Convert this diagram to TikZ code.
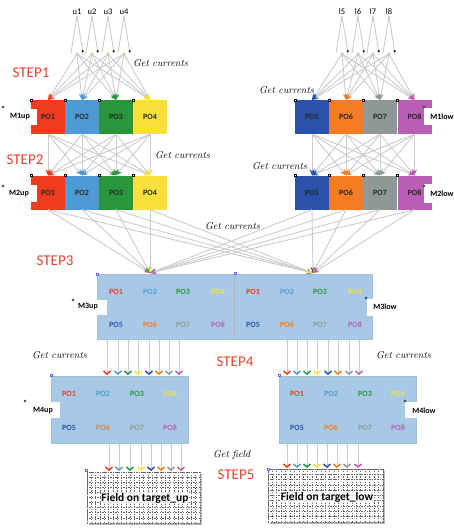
\documentclass[tikz,border=0pt]{standalone}
\usepackage{fontspec}
\setsansfont{Carlito}
\usepackage{xcolor}
\usetikzlibrary{arrows.meta, positioning, calc, shadows}

\definecolor{po1}{HTML}{EF3B1E}
\definecolor{po2}{HTML}{4F9AD5}
\definecolor{po3}{HTML}{2A963B}
\definecolor{po4}{HTML}{F9E03A}
\definecolor{po5}{HTML}{2B52AA}
\definecolor{po6}{HTML}{F77B22}
\definecolor{po7}{HTML}{8D9897}
\definecolor{po8}{HTML}{BA5DB4}
\definecolor{panel}{HTML}{A7C9E6}
\definecolor{wire}{HTML}{CBCBCB}
\definecolor{steps}{HTML}{E8432E}
\definecolor{updot}{HTML}{C5CF7A}
\definecolor{lowdot}{HTML}{D9A3AA}

\begin{document}
\begin{tikzpicture}[x=1pt, y=-1pt,
    font=\sffamily,
    blk/.style={minimum width=34pt, minimum height=34pt, inner sep=0pt, font=\sffamily\bfseries\fontsize{8}{9}\selectfont, text=black!85},
    pnl/.style={fill=panel, draw=panel!85!gray, inner sep=0pt},
    tag/.style={inner sep=0pt, font=\sffamily\bfseries\fontsize{8}{9}\selectfont},
    potxt/.style={text=#1, inner sep=0pt, font=\sffamily\bfseries\fontsize{8}{9}\selectfont},
    inlbl/.style={inner sep=1pt, font=\sffamily\fontsize{8.5}{9}\selectfont},
    steplbl/.style={text=steps, inner sep=0pt, font=\sffamily\fontsize{15}{16}\selectfont},
    getlbl/.style={anchor=west, inner sep=0pt, font=\itshape\fontsize{10}{11}\selectfont},
    wire/.style={draw=wire, line width=0.9pt},
    fan/.style={wire, -{Stealth[color=#1, length=6pt, width=5pt]}},
    vee/.style={wire, -{Straight Barb[color=#1, length=3pt, width=7pt, line width=1.5pt]}},
    handle/.style={draw=#1, line width=0.4pt, fill=white},
    gridln/.style={black!60, dash pattern=on 1.3pt off 1.3pt, line width=0.4pt},
    field/.style={fill=white, draw=black!60, dash pattern=on 1.3pt off 1.3pt, line width=0.4pt, inner sep=0pt,
      drop shadow={shadow xshift=1.5pt, shadow yshift=-1.5pt, fill=gray!55, opacity=1}},
    fieldtxt/.style={fill=white, fill opacity=0.75, text opacity=1, inner sep=0.5pt, font=\sffamily\bfseries\fontsize{11.5}{12}\selectfont}
  ]
  \useasboundingbox (0,0) rectangle (454,530);

  % inputs u / l
  \foreach \n/\x/\c in {u1/77/updot, u2/92/updot, u3/108/updot, u4/124/updot,
                        l5/342/lowdot, l6/358/lowdot, l7/373/lowdot, l8/389/lowdot}{
    \node[inlbl] (\n) at (\x,12) {\n};
    \coordinate (\n L) at (\x-6,53);
    \coordinate (\n R) at (\x+6,53);
    \coordinate (\n D) at (\x,54);
    \draw[wire] (\n.south) -- (\n L);
    \draw[wire, -{Latex[black, length=2.5pt, width=2.5pt]}] (\n.south) -- (\n R);
    \fill[\c] (\n D) circle (1.6pt);
  }

  % M1 and M2 blocks
  \foreach \i/\x in {1/48, 2/82, 3/116, 4/150, 5/312, 6/346, 7/380, 8/414.5}{
    \node[blk, fill=po\i] (m1p\i) at (\x,117) {PO\i};
    \node[blk, fill=po\i] (m2p\i) at (\x,192.5) {PO\i};
  }

  % notches
  \fill[white] (6,109) rectangle (37,125);
  \node[tag] (t1u) at (20,117) {M1up};
  \fill[white] (6,185) rectangle (37,202);
  \node[tag] (t2u) at (19,194) {M2up};
  \fill[white] (424,108) rectangle (454,125);
  \node[tag] (t1l) at (442,117) {M1low};
  \fill[white] (424,184) rectangle (454,203);
  \node[tag] (t2l) at (442,194) {M2low};

  % get currents, step 1
  \foreach \s in {u1,u2,u3,u4}
    \foreach \j in {1,...,4}
      \draw[fan=po\j] (\s D) -- (m1p\j.north);
  \foreach \s in {l5,l6,l7,l8}
    \foreach \j in {5,...,8}
      \draw[fan=po\j] (\s D) -- (m1p\j.north);

  % step 2
  \foreach \i in {1,...,4}
    \foreach \j in {1,...,4}
      \draw[fan=po\j] (m1p\i.south) -- (m2p\j.north);
  \foreach \i in {5,...,8}
    \foreach \j in {5,...,8}
      \draw[fan=po\j] (m1p\i.south) -- (m2p\j.north);

  % M3
  \node[pnl, minimum width=275pt, minimum height=65pt] (m3) at (234.5,306.5) {};
  \draw[gray!60, line width=0.6pt] (m3.north) -- (m3.south);
  \fill[white] (77,300) rectangle (107,315);
  \node[tag] (t3u) at (88,307) {M3up};
  \fill[white] (367,299) rectangle (402,316);
  \node[tag] (t3l) at (385,307) {M3low};
  \foreach \i/\x in {1/116, 2/150, 3/183, 4/218}{
    \node[potxt=po\i] (m3a\i) at (\x,292) {PO\i};
    \node[potxt=po\i] (m3b\i) at (\x+137,292) {PO\i};
  }
  \foreach \i/\x in {5/116, 6/150, 7/183, 8/218}{
    \node[potxt=po\i] (m3a\i) at (\x,325) {PO\i};
    \node[potxt=po\i] (m3b\i) at (\x+137,325) {PO\i};
  }

  % step 3
  \coordinate (f3u) at (150,273);
  \coordinate (f3l) at (313,273);
  \foreach \i in {1,...,8}{
    \draw[fan=po\i] (m2p\i.south) -- (f3u);
    \draw[fan=po\i] (m2p\i.south) -- (f3l);
  }

  % M4
  \node[pnl, minimum width=137pt, minimum height=67pt] (m4u) at (119.5,409.5) {};
  \node[pnl, minimum width=137pt, minimum height=67pt] (m4l) at (347.5,409.5) {};
  \fill[white] (33,402) rectangle (60,418);
  \node[tag] (t4u) at (43,411) {M4up};
  \fill[white] (405,402) rectangle (440,418);
  \node[tag] (t4l) at (424,411) {M4low};
  \foreach \i/\x in {1/69, 2/103, 3/137, 4/170}{
    \node[potxt=po\i] (m4a\i) at (\x,394) {PO\i};
    \node[potxt=po\i] (m4b\i) at (\x+228,394) {PO\i};
  }
  \foreach \i/\x in {5/69, 6/103, 7/137, 8/170}{
    \node[potxt=po\i] (m4a\i) at (\x,428) {PO\i};
    \node[potxt=po\i] (m4b\i) at (\x+228,428) {PO\i};
  }

  % step 4
  \foreach \i/\x/\y in {1/107/287, 2/118/297, 3/128/307, 4/138/317, 5/149/328, 6/159/338, 7/169/349, 8/179/359}{
    \coordinate (s4u\i) at (\x,340);
    \coordinate (e4u\i) at (\x,375);
    \coordinate (s4l\i) at (\y,340);
    \coordinate (e4l\i) at (\y,375);
    \draw[vee=po\i] (s4u\i) -- (e4u\i);
    \draw[vee=po\i] (s4l\i) -- (e4l\i);
  }

  % targets
  \node[field, minimum width=113pt, minimum height=51pt] (gu) at (143.5,497.5) {};
  \node[field, minimum width=115pt, minimum height=53pt] (gl) at (325.5,495.5) {};
  \begin{scope}[shift={(gu.north west)}]
    \draw[gridln, xstep=4.35pt, ystep=5.1pt] (0,0) grid (113,51);
  \end{scope}
  \begin{scope}[shift={(gl.north west)}]
    \draw[gridln, xstep=4.42pt, ystep=5.3pt] (0,0) grid (115,53);
  \end{scope}
  \node[fieldtxt] (gut) at (145,498) {Field on target\_up};
  \node[fieldtxt] (glt) at (327,497) {Field on target\_low};

  % step 5
  \foreach \i/\x/\y in {1/109/287, 2/119/297, 3/130/307, 4/141/317, 5/151/327, 6/161/337, 7/171/347, 8/181/358}{
    \coordinate (s5u\i) at (\x,444);
    \coordinate (e5u\i) at (\x,471);
    \coordinate (s5l\i) at (\y,444);
    \coordinate (e5l\i) at (\y,468);
    \draw[vee=po\i] (s5u\i) -- (e5u\i);
    \draw[vee=po\i] (s5l\i) -- (e5l\i);
  }

  % handles
  \foreach \x/\y in {31/100, 65/100, 99/100, 133/100, 295/100, 329/100, 363/100, 397/100,
                     31/175, 65/175, 99/175, 133/175, 295/175, 329/175, 363/175, 397/175}
    \draw[handle=black] (\x-1.3,\y-1.3) rectangle (\x+1.3,\y+1.3);
  \foreach \x/\y in {97/274, 235/273, 51/375, 279/375, 86/470, 268/469}
    \draw[handle=blue!60] (\x-1.3,\y-1.3) rectangle (\x+1.3,\y+1.3);
  \foreach \x/\y in {3/107, 3/186, 424/107, 424/186, 73/300, 366/298, 25/401, 405/401}
    \draw[handle=black] (\x,\y) circle (1.2pt);

  % labels
  \node[steplbl] (st1) at (31,73) {STEP1};
  \node[steplbl] (st2) at (25,160) {STEP2};
  \node[steplbl] (st3) at (55,261) {STEP3};
  \node[steplbl] (st4) at (235,362) {STEP4};
  \node[steplbl] (st5) at (236,475) {STEP5};
  \node[getlbl] (gc1) at (133,63) {Get currents};
  \node[getlbl] (gc2) at (259,90) {Get currents};
  \node[getlbl] (gc3) at (155,155) {Get currents};
  \node[getlbl] (gc4) at (252,166) {Get currents};
  \node[getlbl] (gc5) at (205,226) {Get currents};
  \node[getlbl] (gc6) at (32,355) {Get currents};
  \node[getlbl] (gc7) at (376,355) {Get currents};
  \node[getlbl] (gf) at (213,455) {Get field};
\end{tikzpicture}
\end{document}
